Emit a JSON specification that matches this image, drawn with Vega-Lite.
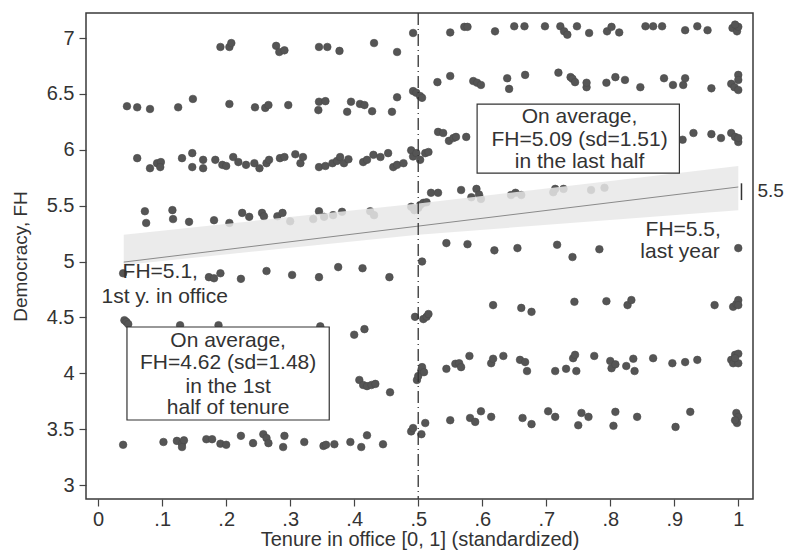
{
  "$schema": "https://vega.github.io/schema/vega-lite/v6.json",
  "autosize": {"type": "none"},
  "padding": {"left": 86, "top": 13, "right": 34, "bottom": 53},
  "width": 667,
  "height": 486,
  "background": "white",
  "config": {
    "font": "Liberation Sans",
    "view": {"stroke": "#3a3a3a", "strokeWidth": 1.5},
    "axis": {"grid": false, "domain": false, "tickColor": "#444", "tickSize": 7, "tickWidth": 1.2, "labelColor": "#333", "titleColor": "#333", "labelFont": "Liberation Sans", "titleFont": "Liberation Sans", "titleFontWeight": "normal"}
  },
  "datasets": {
    "dots": [
      {"x":0.191,"y":6.92},{"x":0.205,"y":6.92},{"x":0.208,"y":6.955},{"x":0.278,"y":6.93},{"x":0.283,"y":6.875},{"x":0.291,"y":6.89},{"x":0.345,"y":6.92},{"x":0.358,"y":6.92},{"x":0.377,"y":6.885},{"x":0.431,"y":6.955},{"x":0.467,"y":6.875},{"x":0.492,"y":7.045},{"x":0.55,"y":7.05},{"x":0.572,"y":7.10},{"x":0.577,"y":7.10},{"x":0.62,"y":7.06},{"x":0.65,"y":7.105},{"x":0.666,"y":7.105},{"x":0.698,"y":7.105},{"x":0.722,"y":7.105},{"x":0.728,"y":7.06},{"x":0.733,"y":7.03},{"x":0.748,"y":7.105},{"x":0.767,"y":7.045},{"x":0.795,"y":7.06},{"x":0.802,"y":7.10},{"x":0.814,"y":7.05},{"x":0.855,"y":7.105},{"x":0.867,"y":7.105},{"x":0.881,"y":7.105},{"x":0.917,"y":7.07},{"x":0.936,"y":7.105},{"x":0.952,"y":7.07},{"x":0.991,"y":7.09},{"x":0.998,"y":7.06},{"x":1.0,"y":7.10},{"x":0.995,"y":7.12},
      {"x":0.045,"y":6.39},{"x":0.061,"y":6.38},{"x":0.081,"y":6.365},{"x":0.125,"y":6.38},{"x":0.148,"y":6.455},{"x":0.205,"y":6.41},{"x":0.245,"y":6.38},{"x":0.261,"y":6.375},{"x":0.266,"y":6.40},{"x":0.297,"y":6.40},{"x":0.344,"y":6.355},{"x":0.345,"y":6.43},{"x":0.355,"y":6.435},{"x":0.389,"y":6.34},{"x":0.395,"y":6.43},{"x":0.409,"y":6.41},{"x":0.416,"y":6.40},{"x":0.428,"y":6.345},{"x":0.459,"y":6.34},{"x":0.467,"y":6.47},{"x":0.492,"y":6.525},{"x":0.497,"y":6.51},{"x":0.503,"y":6.48},{"x":0.506,"y":6.465},
      {"x":0.53,"y":6.605},{"x":0.55,"y":6.66},{"x":0.586,"y":6.615},{"x":0.592,"y":6.60},{"x":0.598,"y":6.58},{"x":0.639,"y":6.64},{"x":0.642,"y":6.545},{"x":0.667,"y":6.67},{"x":0.719,"y":6.69},{"x":0.738,"y":6.65},{"x":0.741,"y":6.635},{"x":0.745,"y":6.605},{"x":0.763,"y":6.56},{"x":0.763,"y":6.60},{"x":0.794,"y":6.60},{"x":0.808,"y":6.65},{"x":0.823,"y":6.625},{"x":0.847,"y":6.56},{"x":0.884,"y":6.64},{"x":0.898,"y":6.58},{"x":0.914,"y":6.58},{"x":0.917,"y":6.64},{"x":0.958,"y":6.55},{"x":0.989,"y":6.59},{"x":0.994,"y":6.56},{"x":1.0,"y":6.67},{"x":1.0,"y":6.625},{"x":1.0,"y":6.535},
      {"x":0.061,"y":5.925},{"x":0.081,"y":5.835},{"x":0.092,"y":5.88},{"x":0.098,"y":5.89},{"x":0.097,"y":5.845},{"x":0.131,"y":5.925},{"x":0.147,"y":5.97},{"x":0.147,"y":5.845},{"x":0.164,"y":5.91},{"x":0.164,"y":5.835},{"x":0.183,"y":5.91},{"x":0.194,"y":5.865},{"x":0.2,"y":5.855},{"x":0.211,"y":5.935},{"x":0.219,"y":5.89},{"x":0.231,"y":5.865},{"x":0.244,"y":5.88},{"x":0.252,"y":5.835},{"x":0.263,"y":5.88},{"x":0.267,"y":5.91},{"x":0.284,"y":5.925},{"x":0.291,"y":5.935},{"x":0.308,"y":5.96},{"x":0.316,"y":5.88},{"x":0.32,"y":5.935},{"x":0.345,"y":5.845},{"x":0.355,"y":5.855},{"x":0.366,"y":5.88},{"x":0.373,"y":5.90},{"x":0.378,"y":5.935},{"x":0.384,"y":5.88},{"x":0.391,"y":5.915},{"x":0.414,"y":5.89},{"x":0.42,"y":5.91},{"x":0.43,"y":5.955},{"x":0.441,"y":5.935},{"x":0.453,"y":5.97},{"x":0.461,"y":5.845},{"x":0.467,"y":5.865},{"x":0.477,"y":5.88},{"x":0.489,"y":5.995},{"x":0.492,"y":5.94},{"x":0.497,"y":5.97},{"x":0.503,"y":5.91},{"x":0.511,"y":5.97},{"x":0.516,"y":5.98},
      {"x":0.531,"y":6.16},{"x":0.539,"y":6.15},{"x":0.548,"y":6.08},{"x":0.555,"y":6.105},{"x":0.559,"y":6.115},{"x":0.575,"y":6.115},{"x":0.913,"y":6.09},{"x":0.93,"y":6.15},{"x":0.958,"y":6.14},{"x":0.973,"y":6.105},{"x":0.989,"y":6.15},{"x":0.995,"y":6.115},{"x":1.0,"y":6.07},{"x":1.0,"y":6.105},
      {"x":0.073,"y":5.45},{"x":0.075,"y":5.345},{"x":0.116,"y":5.46},{"x":0.117,"y":5.38},{"x":0.142,"y":5.355},{"x":0.181,"y":5.37},{"x":0.205,"y":5.345},{"x":0.225,"y":5.435},{"x":0.236,"y":5.40},{"x":0.256,"y":5.435},{"x":0.259,"y":5.405},{"x":0.28,"y":5.405},{"x":0.288,"y":5.435},{"x":0.30,"y":5.36},{"x":0.336,"y":5.38},{"x":0.345,"y":5.45},{"x":0.353,"y":5.40},{"x":0.367,"y":5.415},{"x":0.381,"y":5.445},{"x":0.425,"y":5.45},{"x":0.431,"y":5.415},{"x":0.489,"y":5.49},{"x":0.494,"y":5.46},{"x":0.50,"y":5.48},{"x":0.503,"y":5.505},{"x":0.508,"y":5.525},{"x":0.513,"y":5.53},
      {"x":0.52,"y":5.615},{"x":0.531,"y":5.615},{"x":0.567,"y":5.64},{"x":0.583,"y":5.575},{"x":0.591,"y":5.65},{"x":0.595,"y":5.60},{"x":0.598,"y":5.56},{"x":0.645,"y":5.595},{"x":0.652,"y":5.615},{"x":0.661,"y":5.595},{"x":0.711,"y":5.62},{"x":0.714,"y":5.65},{"x":0.727,"y":5.65},{"x":0.77,"y":5.64},{"x":0.791,"y":5.66},
      {"x":0.039,"y":4.895},{"x":0.173,"y":4.86},{"x":0.181,"y":4.85},{"x":0.191,"y":4.895},{"x":0.223,"y":4.845},{"x":0.263,"y":4.915},{"x":0.303,"y":4.88},{"x":0.345,"y":4.86},{"x":0.375,"y":4.95},{"x":0.413,"y":4.94},{"x":0.455,"y":4.86},{"x":0.506,"y":5.0},{"x":0.544,"y":5.165},{"x":0.577,"y":5.155},{"x":0.619,"y":5.10},{"x":0.655,"y":5.12},{"x":0.717,"y":5.15},{"x":0.741,"y":5.04},{"x":0.783,"y":5.11},{"x":1.0,"y":5.12},
      {"x":0.041,"y":4.475},{"x":0.044,"y":4.46},{"x":0.047,"y":4.44},{"x":0.128,"y":4.43},{"x":0.188,"y":4.43},{"x":0.347,"y":4.42},{"x":0.40,"y":4.345},{"x":0.416,"y":4.395},{"x":0.495,"y":4.505},{"x":0.508,"y":4.485},{"x":0.513,"y":4.505},{"x":0.516,"y":4.53},{"x":0.617,"y":4.61},{"x":0.661,"y":4.585},{"x":0.677,"y":4.55},{"x":0.744,"y":4.64},{"x":0.794,"y":4.645},{"x":0.827,"y":4.61},{"x":0.833,"y":4.655},{"x":0.963,"y":4.61},{"x":0.992,"y":4.595},{"x":0.997,"y":4.62},{"x":1.0,"y":4.655},{"x":1.0,"y":4.61},
      {"x":0.408,"y":3.94},{"x":0.414,"y":3.895},{"x":0.42,"y":3.885},{"x":0.427,"y":3.895},{"x":0.433,"y":3.905},{"x":0.456,"y":3.83},{"x":0.498,"y":3.94},{"x":0.50,"y":3.975},{"x":0.505,"y":4.03},{"x":0.506,"y":4.055},{"x":0.509,"y":4.01},{"x":0.544,"y":4.04},{"x":0.558,"y":4.085},{"x":0.564,"y":4.09},{"x":0.567,"y":4.055},{"x":0.58,"y":4.155},{"x":0.614,"y":4.09},{"x":0.617,"y":4.13},{"x":0.633,"y":4.155},{"x":0.659,"y":4.12},{"x":0.667,"y":4.10},{"x":0.67,"y":4.02},{"x":0.714,"y":4.02},{"x":0.731,"y":4.04},{"x":0.742,"y":4.135},{"x":0.745,"y":4.165},{"x":0.747,"y":4.02},{"x":0.775,"y":4.155},{"x":0.80,"y":4.11},{"x":0.802,"y":4.045},{"x":0.808,"y":4.08},{"x":0.825,"y":4.065},{"x":0.836,"y":4.13},{"x":0.838,"y":4.02},{"x":0.867,"y":4.135},{"x":0.897,"y":4.09},{"x":0.917,"y":4.10},{"x":0.936,"y":4.12},{"x":0.989,"y":4.12},{"x":0.992,"y":4.09},{"x":0.995,"y":4.165},{"x":1.0,"y":4.09},{"x":1.0,"y":4.175},{"x":0.995,"y":4.135},
      {"x":0.039,"y":3.36},{"x":0.102,"y":3.385},{"x":0.123,"y":3.395},{"x":0.131,"y":3.37},{"x":0.134,"y":3.40},{"x":0.131,"y":3.34},{"x":0.169,"y":3.41},{"x":0.178,"y":3.41},{"x":0.191,"y":3.37},{"x":0.20,"y":3.36},{"x":0.223,"y":3.44},{"x":0.242,"y":3.375},{"x":0.258,"y":3.455},{"x":0.263,"y":3.42},{"x":0.266,"y":3.375},{"x":0.289,"y":3.34},{"x":0.291,"y":3.44},{"x":0.322,"y":3.385},{"x":0.352,"y":3.35},{"x":0.356,"y":3.36},{"x":0.369,"y":3.365},{"x":0.394,"y":3.385},{"x":0.411,"y":3.34},{"x":0.42,"y":3.445},{"x":0.445,"y":3.365},{"x":0.489,"y":3.48},{"x":0.492,"y":3.51},{"x":0.505,"y":3.455},{"x":0.511,"y":3.555},
      {"x":0.55,"y":3.58},{"x":0.581,"y":3.60},{"x":0.589,"y":3.565},{"x":0.598,"y":3.66},{"x":0.614,"y":3.61},{"x":0.663,"y":3.60},{"x":0.677,"y":3.545},{"x":0.703,"y":3.66},{"x":0.714,"y":3.61},{"x":0.75,"y":3.535},{"x":0.755,"y":3.645},{"x":0.766,"y":3.61},{"x":0.805,"y":3.53},{"x":0.808,"y":3.655},{"x":0.842,"y":3.61},{"x":0.902,"y":3.52},{"x":0.925,"y":3.655},{"x":0.997,"y":3.645},{"x":1.0,"y":3.61},{"x":0.998,"y":3.555},{"x":0.995,"y":3.58}
    ],
    "band": [
      {"x": 0.04, "lo": 4.97, "hi": 5.24},
      {"x": 0.5, "lo": 5.24, "hi": 5.52},
      {"x": 1.0, "lo": 5.46, "hi": 5.855}
    ],
    "fit": [
      {"x": 0.04, "y": 4.995},
      {"x": 1.0, "y": 5.667}
    ],
    "cut": [{"x": 0.5}],
    "endmark": [{"x": 1.005, "y1": 5.55, "y2": 5.70}],
    "boxes": [
      {"x1": 0.592, "x2": 0.908, "y1": 5.792, "y2": 6.409},
      {"x1": 0.045, "x2": 0.361, "y1": 3.582, "y2": 4.414}
    ],
    "labels": [
      {"x": 0.752, "y": 6.293, "t": "On average,"},
      {"x": 0.752, "y": 6.087, "t": "FH=5.09 (sd=1.51)"},
      {"x": 0.752, "y": 5.89, "t": "in the last half"},
      {"x": 0.203, "y": 4.289, "t": "On average,"},
      {"x": 0.203, "y": 4.092, "t": "FH=4.62 (sd=1.48)"},
      {"x": 0.203, "y": 3.877, "t": "in the 1st"},
      {"x": 0.203, "y": 3.689, "t": "half of tenure"},
      {"x": 0.097, "y": 4.906, "t": "FH=5.1,"},
      {"x": 0.104, "y": 4.682, "t": "1st y. in office"},
      {"x": 0.914, "y": 5.282, "t": "FH=5.5,"},
      {"x": 0.909, "y": 5.085, "t": "last year"}
    ],
    "side": [{"x": 1.03, "y": 5.63, "t": "5.5"}]
  },
  "layer": [
    {
      "data": {"name": "dots"},
      "mark": {"type": "point", "filled": true, "size": 58, "color": "#555555", "opacity": 1, "stroke": "#4a4a4a", "strokeWidth": 0.6},
      "encoding": {
        "x": {"field": "x", "type": "quantitative", "scale": {"domain": [-0.019, 1.023], "nice": false, "zero": false},
          "axis": {"values": [0, 0.1, 0.2, 0.3, 0.4, 0.5, 0.6, 0.7, 0.8, 0.9, 1], "labelExpr": "datum.value == 0 ? '0' : datum.value == 1 ? '1' : replace(format(datum.value, '.1f'), '0.', '.')", "labelFontSize": 20, "labelPadding": 3, "title": "Tenure in office [0, 1] (standardized)", "titleFontSize": 20, "titlePadding": 0}},
        "y": {"field": "y", "type": "quantitative", "scale": {"domain": [2.875, 7.224], "nice": false, "zero": false},
          "axis": {"values": [3, 3.5, 4, 4.5, 5, 5.5, 6, 6.5, 7], "labelExpr": "datum.value % 1 == 0 ? format(datum.value, 'd') : format(datum.value, '.1f')", "labelFontSize": 20, "labelPadding": 5, "title": "Democracy, FH", "titleFontSize": 19, "titlePadding": 16}}
      }
    },
    {
      "data": {"name": "band"},
      "mark": {"type": "area", "color": "#e8e8e8", "opacity": 0.85},
      "encoding": {
        "x": {"field": "x", "type": "quantitative"},
        "y": {"field": "lo", "type": "quantitative"},
        "y2": {"field": "hi"}
      }
    },
    {
      "data": {"name": "fit"},
      "mark": {"type": "line", "color": "#8a8a8a", "strokeWidth": 1},
      "encoding": {
        "x": {"field": "x", "type": "quantitative"},
        "y": {"field": "y", "type": "quantitative"}
      }
    },
    {
      "data": {"name": "cut"},
      "mark": {"type": "rule", "color": "#333", "strokeWidth": 1.3, "strokeDash": [12, 4, 1, 4]},
      "encoding": {"x": {"field": "x", "type": "quantitative"}}
    },
    {
      "data": {"name": "endmark"},
      "mark": {"type": "rule", "color": "#333", "strokeWidth": 1.5},
      "encoding": {
        "x": {"field": "x", "type": "quantitative"},
        "y": {"field": "y1", "type": "quantitative"},
        "y2": {"field": "y2"}
      }
    },
    {
      "data": {"name": "boxes"},
      "mark": {"type": "rect", "fill": "white", "stroke": "#333", "strokeWidth": 1.2},
      "encoding": {
        "x": {"field": "x1", "type": "quantitative"},
        "x2": {"field": "x2"},
        "y": {"field": "y1", "type": "quantitative"},
        "y2": {"field": "y2"}
      }
    },
    {
      "data": {"name": "labels"},
      "mark": {"type": "text", "align": "center", "baseline": "middle", "fontSize": 21, "color": "#333", "font": "Liberation Sans"},
      "encoding": {
        "x": {"field": "x", "type": "quantitative"},
        "y": {"field": "y", "type": "quantitative"},
        "text": {"field": "t"}
      }
    },
    {
      "data": {"name": "side"},
      "mark": {"type": "text", "align": "left", "baseline": "middle", "fontSize": 19, "color": "#333", "font": "Liberation Sans"},
      "encoding": {
        "x": {"field": "x", "type": "quantitative"},
        "y": {"field": "y", "type": "quantitative"},
        "text": {"field": "t"}
      }
    }
  ]
}
